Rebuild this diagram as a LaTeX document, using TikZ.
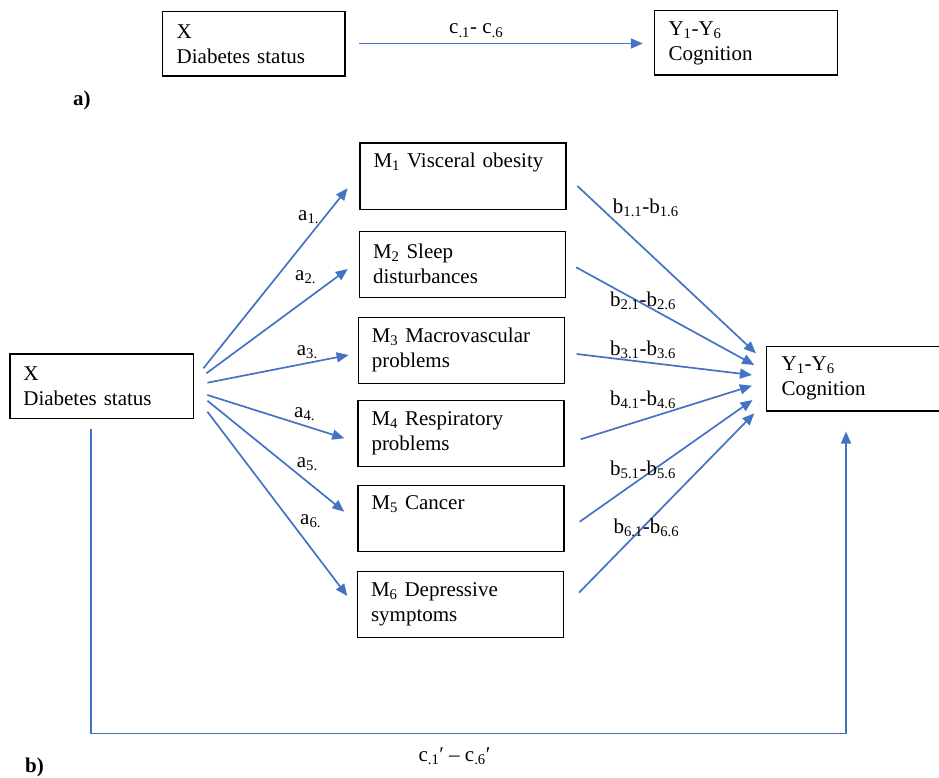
\documentclass[tikz,border=0pt]{standalone}
\usepackage{fontspec}
\setmainfont{Liberation Serif}
\usetikzlibrary{arrows.meta,calc}
\definecolor{arrowblue}{HTML}{4472C4}
\begin{document}
\begin{tikzpicture}[x=1pt,y=-1pt,
  txt/.style={font=\fontsize{21}{25}\selectfont},
  box/.style={draw=black, line width=1.4pt, txt, align=left, inner ysep=0pt, minimum height=64.3pt},
  mbox/.style={box, text width=179pt, inner xsep=13.5pt, minimum height=66pt},
  arr/.style={draw=arrowblue, line width=1.7pt, -{Triangle[length=12pt,width=10pt]}},
  lab/.style={txt, anchor=base west, inner sep=0pt},
  boldlab/.style={font=\fontsize{21}{25}\selectfont\bfseries, anchor=base west, inner sep=0pt}]
\useasboundingbox (0,0) rectangle (939,778);

% ---- part a ----
\node[box, text width=154pt, inner xsep=14.4pt] (xt) at (253.7,43.8) {X\\Diabetes status};
\node[box, text width=155pt, inner xsep=14pt] (yt) at (746,42.9) {Y\textsubscript{1}-Y\textsubscript{6}\\Cognition};
\draw[arr] ($(xt.east)+(13.3,-0.3)$) -- ($(yt.west)+(-11,0.6)$);
\node[lab] (ct) at (449,34) {c\textsubscript{.1}- c\textsubscript{.6}};
\node[boldlab] (la) at (73,106) {a)};

% ---- part b ----
\node[box, text width=156.7pt, inner xsep=13.3pt] (xb) at (101.7,386.2) {X\\Diabetes status};
\node[box, text width=153.3pt, inner xsep=15pt] (yb) at (858.3,378.7) {Y\textsubscript{1}-Y\textsubscript{6}\\Cognition};

\node[mbox] (m1) at (463,176.2) {M\textsubscript{1} Visceral obesity\\\strut};
\node[mbox] (m2) at (462.5,264.2) {M\textsubscript{2} Sleep\\disturbances};
\node[mbox] (m3) at (461.3,350.3) {M\textsubscript{3} Macrovascular\\problems};
\node[mbox] (m4) at (461,433.3) {M\textsubscript{4} Respiratory\\problems};
\node[mbox] (m5) at (461,518.7) {M\textsubscript{5} Cancer\\\strut};
\node[mbox] (m6) at (460.5,604.2) {M\textsubscript{6} Depressive\\symptoms};

% X -> M arrows
\draw[arr] ($(xb.east)+(9.35,-17.9)$) -- ($(m1.west)+(-11.7,12.1)$);
\draw[arr] ($(xb.east)+(12.35,-12.9)$) -- ($(m2.west)+(-11,4.8)$);
\draw[arr] ($(xb.east)+(13.35,-3.5)$) -- ($(m3.west)+(-9,4.7)$);
\draw[arr] ($(xb.east)+(13.35,8.8)$) -- ($(m4.west)+(-13,5)$);
\draw[arr] ($(xb.east)+(13.35,14.5)$) -- ($(m5.west)+(-13,-7)$);
\draw[arr] ($(xb.east)+(13.35,25.5)$) -- ($(m6.west)+(-9.5,-8.2)$);

% M -> Y arrows
\draw[arr] ($(m1.east)+(10.7,9.8)$) -- ($(yb.west)+(-10,-25.4)$);
\draw[arr] ($(m2.east)+(10,3.1)$) -- ($(yb.west)+(-11.7,-13.7)$);
\draw[arr] ($(m3.east)+(11.7,3.7)$) -- ($(yb.west)+(-14,-3.7)$);
\draw[arr] ($(m4.east)+(16,6)$) -- ($(yb.west)+(-14,7)$);
\draw[arr] ($(m5.east)+(15,3)$) -- ($(yb.west)+(-13.4,21.3)$);
\draw[arr] ($(m6.east)+(14.8,-11.5)$) -- ($(yb.west)+(-11.7,34.6)$);

% direct path X -> Y
\draw[arr] ($(xb.south)+(-11,10)$) -- ++(0,304.4) -| ($(yb.south)+(-12.3,20)$);

% labels a
\node[lab] (a1) at (298,220) {a\textsubscript{1.}};
\node[lab] (a2) at (295,280) {a\textsubscript{2.}};
\node[lab] (a3) at (296.7,355) {a\textsubscript{3.}};
\node[lab] (a4) at (294,417.3) {a\textsubscript{4.}};
\node[lab] (a5) at (296.7,467.3) {a\textsubscript{5.}};
\node[lab] (a6) at (300,524) {a\textsubscript{6.}};

% labels b
\node[lab] (b1) at (612.7,213.3) {b\textsubscript{1.1}-b\textsubscript{1.6}};
\node[lab] (b2) at (610,306.7) {b\textsubscript{2.1}-b\textsubscript{2.6}};
\node[lab] (b3) at (610,355) {b\textsubscript{3.1}-b\textsubscript{3.6}};
\node[lab] (b4) at (610,405) {b\textsubscript{4.1}-b\textsubscript{4.6}};
\node[lab] (b5) at (610,475) {b\textsubscript{5.1}-b\textsubscript{5.6}};
\node[lab] (b6) at (613.3,533.3) {b\textsubscript{6.1}-b\textsubscript{6.6}};

\node[lab] (cb) at (418.3,761) {c\textsubscript{.1}′ – c\textsubscript{.6}′};
\node[boldlab] (lb) at (25,772) {b)};
\end{tikzpicture}
\end{document}
